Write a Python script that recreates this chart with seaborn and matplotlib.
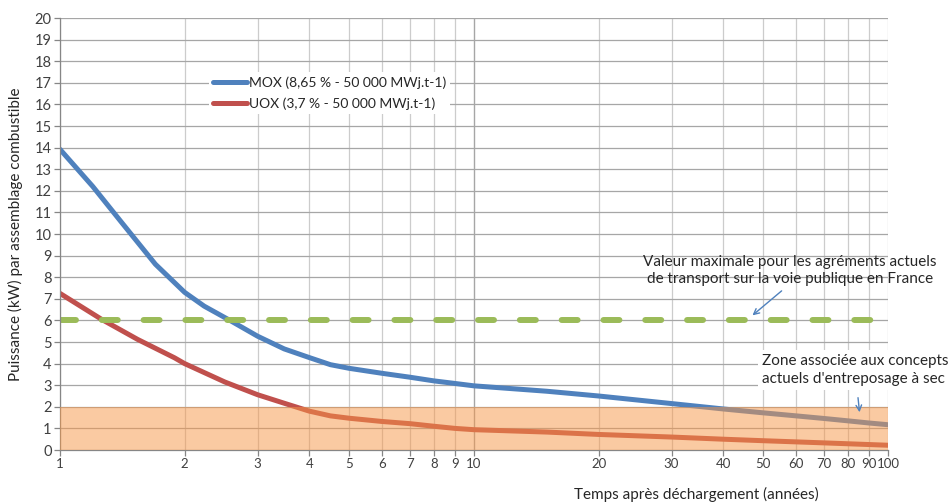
import numpy as np
import pandas as pd
import seaborn as sns
from matplotlib import pyplot as plt
from matplotlib.ticker import FixedLocator, NullLocator


# values
years_mox = [1, 1.2, 1.4, 1.7, 2, 2.23, 2.59, 3, 3.48, 4, 4.5, 5, 6, 7, 8,
             9, 10, 15, 20, 30, 40, 50, 60, 70, 80, 90, 100]
power_mox = [13.92, 12.2, 10.6, 8.6, 7.3, 6.66, 5.97, 5.27, 4.68, 4.28,
             3.95, 3.78, 3.55, 3.37, 3.2, 3.08, 2.97, 2.72, 2.5, 2.15, 1.9,
             1.72, 1.58, 1.46, 1.35, 1.25, 1.17]

years_uox = [1, 1.26, 1.54, 1.89, 2, 2.5, 3, 3.5, 4, 4.5, 5, 6, 7, 8, 9,
             10, 15, 20, 30, 40, 50, 70, 100]
power_uox = [7.25, 6.05, 5.12, 4.27, 4.0, 3.15, 2.56, 2.15, 1.8, 1.58, 1.47,
             1.32, 1.22, 1.1, 1.0, 0.94, 0.83, 0.72, 0.6, 0.5, 0.43, 0.33,
             0.22]

label_mox = "MOX (8,65 % - 50 000 MWj.t-1)"
label_uox = "UOX (3,7 % - 50 000 MWj.t-1)"

transport_limit = 6
storage_limit = 2

x_ticks = [1, 2, 3, 4, 5, 6, 7, 8, 9, 10, 20, 30, 40, 50, 60, 70, 80, 90, 100]
y_ticks = list(range(0, 21))


def main():
    df = pd.concat([
        pd.DataFrame({"years": years_mox, "power": power_mox, "fuel": label_mox}),
        pd.DataFrame({"years": years_uox, "power": power_uox, "fuel": label_uox}),
    ])

    sns.set_theme(style="white")
    plt.rcParams['font.family'] = ['Lato', 'DejaVu Sans']
    plt.rcParams['font.size'] = 10

    fig = plt.figure(figsize=(9.5, 5.04), dpi=100)
    ax = fig.add_axes([60 / 950, 1 - 450 / 504, 828 / 950, 432 / 504])

    sns.lineplot(data=df, x="years", y="power", hue="fuel",
                 palette={label_mox: "#4F81BD", label_uox: "#C0504D"},
                 linewidth=3.6, ax=ax, zorder=2, legend=True)

    ax.set_xscale("log")
    ax.set_xlim(1, 100)
    ax.set_ylim(0, 20)

    ax.xaxis.set_major_locator(FixedLocator(x_ticks))
    ax.xaxis.set_minor_locator(NullLocator())
    ax.set_xticks(x_ticks)
    ax.set_xticklabels([str(t) for t in x_ticks])
    ax.set_yticks(y_ticks)
    ax.set_yticklabels([str(t) for t in y_ticks])

    ax.grid(True, axis="y", color="#a6a6a6", linewidth=0.9, zorder=0)
    ax.grid(True, axis="x", color="#cccccc", linewidth=0.9, zorder=0)
    ax.axvline(10, color="#a6a6a6", linewidth=0.9, zorder=1)
    ax.set_axisbelow(True)

    for side in ["top", "right"]:
        ax.spines[side].set_visible(False)
    for side in ["left", "bottom"]:
        ax.spines[side].set_color("#868686")
        ax.spines[side].set_linewidth(0.9)

    ax.tick_params(axis="both", which="major", direction="out", length=4,
                   width=0.9, color="#868686", labelcolor="#404040",
                   pad=2, left=True, bottom=True)
    ax.tick_params(axis="y", labelsize=10.5)
    ax.tick_params(axis="x", labelsize=9.5)

    ax.set_xlabel("")
    ax.set_ylabel("")

    # transport limit
    ax.axhline(transport_limit, color="#9BBB59", linewidth=4.3,
               dashes=(2.67, 4.33), dash_capstyle="round", zorder=2)

    # dry storage zone, drawn over the curves
    ax.axhspan(0, storage_limit, color="#F79646", alpha=0.5, lw=0, zorder=3)

    handles, labels = ax.get_legend_handles_labels()
    leg = ax.legend(handles, labels, loc="upper left",
                    bbox_to_anchor=(0.18, 0.875), frameon=True,
                    fontsize=10, handlelength=2.4, handletextpad=0.15,
                    labelspacing=0.65, borderpad=0.3, borderaxespad=0)
    leg.get_frame().set_facecolor("white")
    leg.get_frame().set_edgecolor("none")
    leg.get_frame().set_alpha(1)
    for line in leg.get_lines():
        line.set_linewidth(3.6)
    leg.set_zorder(5)

    ax.text(58, 8.3,
            "Valeur maximale pour les agréments actuels\n"
            "de transport sur la voie publique en France",
            ha="center", va="center", fontsize=11, color="#262626",
            linespacing=1.3, zorder=6)
    ax.annotate("", xy=(46.5, 6.15), xytext=(56, 7.45),
                arrowprops=dict(arrowstyle="->", color="#4F81BD", lw=1),
                zorder=6)

    ax.text(49.6, 3.7,
            "Zone associée aux concepts\n"
            "actuels d'entreposage à sec",
            ha="left", va="center", fontsize=11, color="#262626",
            linespacing=1.3, zorder=6, clip_on=False,
            bbox=dict(facecolor="white", edgecolor="none", pad=3))
    ax.annotate("", xy=(85.5, 1.62), xytext=(84.5, 2.55),
                arrowprops=dict(arrowstyle="->", color="#4F81BD", lw=1),
                zorder=6)

    fig.text(15 / 950, 1 - 234 / 504,
             "Puissance (kW) par assemblage combustible",
             rotation=90, ha="center", va="center", fontsize=11,
             color="#262626")
    fig.text(696 / 950, 1 - 494 / 504,
             "Temps après déchargement (années)",
             ha="center", va="center", fontsize=11, color="#262626")

    fig.savefig("out.png", dpi=100, facecolor="white")


if __name__ == "__main__":
    main()
